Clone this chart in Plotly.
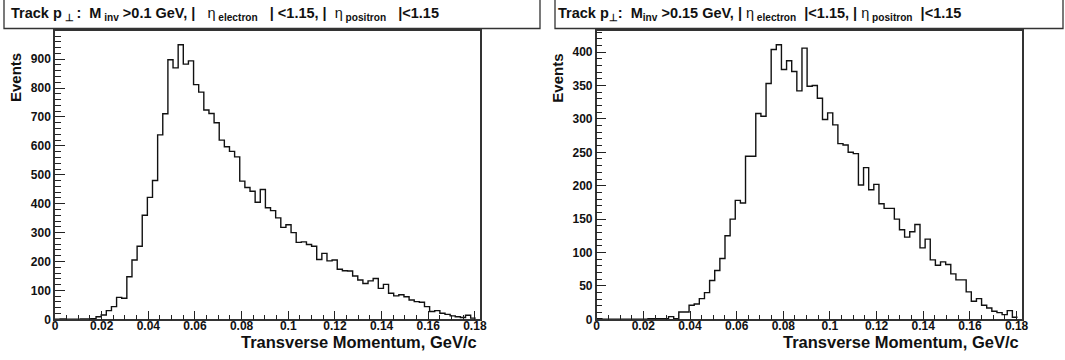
import plotly.graph_objects as go

# ---- data ----
bin_width = 0.0022
left_counts = [0, 1, 0, 0, 0, 1, 1, 2, 9, 15, 30, 44, 76, 73, 147, 205, 253, 360, 422, 480,
               638, 711, 898, 870, 950, 883, 894, 812, 786, 724, 712, 680, 620, 597, 581, 562,
               478, 456, 443, 405, 449, 386, 376, 351, 318, 327, 300, 266, 268, 259, 253, 207,
               228, 202, 205, 173, 168, 167, 150, 136, 124, 133, 141, 107, 121, 90, 81, 85, 78,
               67, 61, 59, 44, 27, 30, 21, 17, 12, 9, 6, 14, 4]
right_counts = [1, 0, 0, 0, 0, 0, 0, 0, 0, 0, 1, 1, 1, 1, 4, 1, 11, 11, 21, 23, 31, 40, 58, 73,
                91, 125, 150, 178, 174, 244, 244, 308, 304, 353, 404, 411, 374, 387, 371, 342,
                406, 349, 350, 331, 299, 309, 291, 263, 261, 250, 248, 201, 227, 194, 202, 173,
                166, 166, 150, 134, 123, 131, 142, 107, 120, 89, 81, 86, 82, 68, 59, 59, 41, 27,
                31, 21, 17, 12, 10, 7, 13, 3]
x_ticks = [0, 0.02, 0.04, 0.06, 0.08, 0.1, 0.12, 0.14, 0.16, 0.18]
x_tick_labels = ["0", "0.02", "0.04", "0.06", "0.08", "0.1", "0.12", "0.14", "0.16", "0.18"]
S = "\u00a0"
left_title = ("<b>Track p</b><sub><b>" + S + "⊥" + S + "</b></sub><b>:" + S + S + "M</b><sub><b>" + S + "inv</b></sub>"
              "<b>" + S + ">0.1 GeV," + S + "|</b>" + S + S + S + "η<sub><b>" + S + "electron</b></sub><b>" + S + S + S
              + "|" + S + "<1.15," + S + "|</b>" + S + S + "η<sub><b>" + S + "positron</b></sub><b>" + S + S + S + "|<1.15</b>")
right_title = ("<b>Track p</b><sub><b>⊥</b></sub><b>:" + S + S + "M</b><sub><b>inv</b></sub><b>" + S + ">0.15 GeV,"
               + S + "|</b>" + S + "η<sub><b>" + S + "electron</b></sub><b>" + S + S + "|<1.15," + S + "|</b>" + S
               + "η<sub><b>" + S + "positron</b></sub><b>" + S + S + "|<1.15</b>")
x_title = "Transverse Momentum, GeV/c"
y_title = "Events"

W, H = 1065, 360
FONT = "Liberation Sans"


def steps(counts):
    xs = [0.0] + [i * bin_width for i in range(len(counts) + 1)]
    ys = [0] + list(counts) + [counts[-1]]
    return xs, ys


fig = go.Figure()
xl, yl = steps(left_counts)
xr, yr = steps(right_counts)
fig.add_trace(go.Scatter(x=xl, y=yl, mode="lines", line=dict(shape="hv", color="#111", width=1.4),
                         xaxis="x", yaxis="y", showlegend=False, hoverinfo="skip"))
fig.add_trace(go.Scatter(x=xr, y=yr, mode="lines", line=dict(shape="hv", color="#111", width=1.4),
                         xaxis="x2", yaxis="y2", showlegend=False, hoverinfo="skip"))

frame_top, frame_bot = 31, 319.3
ydom = [(H - frame_bot) / H, (H - frame_top) / H]
lx0, lx1 = 55, 480
rx0, rx1 = 596.7, 1021.7

common_x = dict(range=[0, 0.1822], tickvals=x_ticks, ticktext=x_tick_labels,
                ticks="inside", ticklen=9, tickwidth=1, tickcolor="#222",
                showline=True, linecolor="#333", linewidth=1.5, mirror=True,
                showgrid=False, zeroline=False, automargin=False, ticklabelstandoff=-5,
                tickfont=dict(family=FONT, size=12, color="#111", weight="bold"),
                minor=dict(ticks="inside", ticklen=5, dtick=0.005, tick0=0, tickcolor="#222"))
common_y = dict(ticks="inside", ticklen=10, tickwidth=1, tickcolor="#222",
                showline=True, linecolor="#333", linewidth=1.5, mirror=True,
                showgrid=False, zeroline=False, automargin=False,
                tickfont=dict(family=FONT, size=12, color="#111", weight="bold"))

fig.update_layout(
    template="none",
    width=W, height=H, margin=dict(l=0, r=0, t=0, b=0, autoexpand=False),
    paper_bgcolor="white", plot_bgcolor="white",
    xaxis=dict(domain=[lx0 / W, lx1 / W], anchor="y", **common_x),
    yaxis=dict(domain=ydom, anchor="x", range=[0, 997.5], dtick=100, tick0=0,
               minor=dict(ticks="inside", ticklen=6, dtick=20, tickcolor="#222"), **common_y),
    xaxis2=dict(domain=[rx0 / W, rx1 / W], anchor="y2", **common_x),
    yaxis2=dict(domain=ydom, anchor="x2", range=[0, 431.6], dtick=50, tick0=0,
                minor=dict(ticks="inside", ticklen=6, dtick=10, tickcolor="#222"), **common_y),
)

# title boxes
for (bx0, bx1) in [(4, 540), (555, 1063)]:
    fig.add_shape(type="rect", xref="paper", yref="paper",
                  x0=bx0 / W, x1=bx1 / W, y0=1 - 28.5 / H, y1=1 + 2 / H,
                  line=dict(color="#333", width=1.3), fillcolor="white", layer="above")

fig.add_annotation(xref="paper", yref="paper", x=9 / W, y=1 - 14 / H, xanchor="left", yanchor="middle",
                   text=left_title, showarrow=False, font=dict(family=FONT, size=14.5, color="#111"))
fig.add_annotation(xref="paper", yref="paper", x=556 / W, y=1 - 14 / H, xanchor="left", yanchor="middle",
                   text=right_title, showarrow=False, font=dict(family=FONT, size=14.5, color="#111"))

# axis titles
for (ax_left, ax_right) in [(lx0, lx1), (rx0, rx1)]:
    fig.add_annotation(xref="paper", yref="paper", x=(ax_right - 1) / W, y=1 - 342 / H,
                       xanchor="right", yanchor="middle", text="<b>" + x_title + "</b>",
                       showarrow=False, font=dict(family=FONT, size=16.5, color="#111"))
    fig.add_annotation(xref="paper", yref="paper", x=(ax_left - 40) / W, y=1 - 78 / H,
                       xanchor="center", yanchor="middle", textangle=-90, text="<b>" + y_title + "</b>",
                       showarrow=False, font=dict(family=FONT, size=15, color="#111"))

fig.write_html("out.html", config={"displayModeBar": False},
               post_script="document.body.style.margin='0';document.body.style.overflow='hidden';")
